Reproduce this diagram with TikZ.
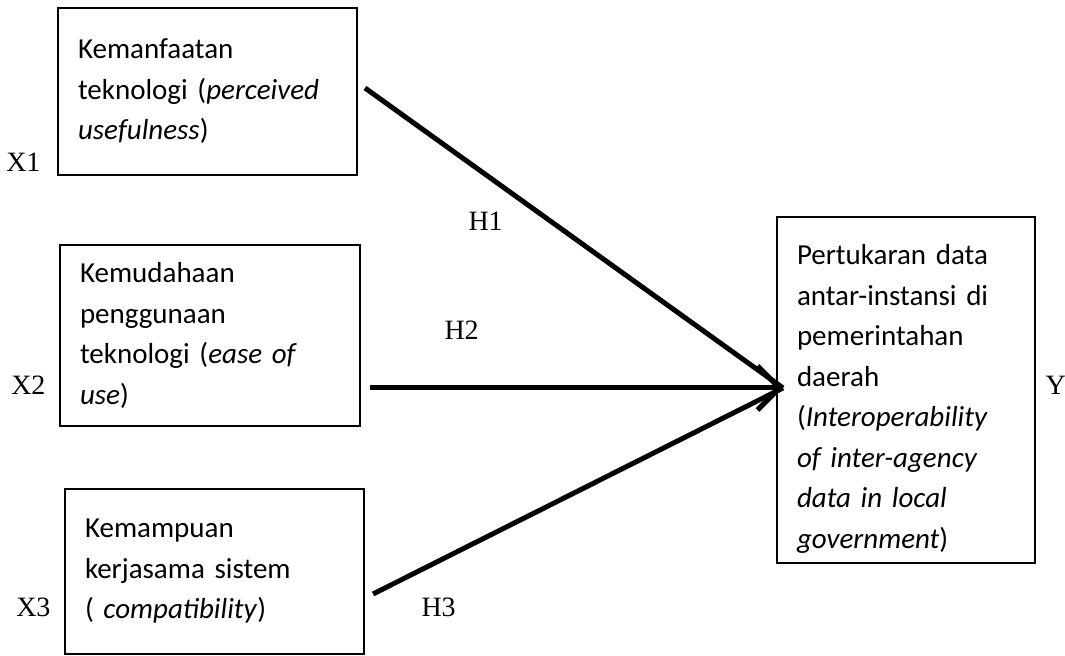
\documentclass[tikz,border=0pt]{standalone}
\usepackage{fontspec}
\setmainfont{Liberation Serif}
\newfontfamily\boxfont{Carlito}
\usetikzlibrary{arrows.meta}

\begin{document}
\begin{tikzpicture}[x=0.5pt,y=-0.5pt,line width=2.5pt,>={Straight Barb[length=11pt,width=22pt]}]

        \tikzstyle{var}=[draw=black,line width=0.8pt,align=left,inner xsep=10pt,inner ysep=2pt,font=\boxfont\fontsize{14.5}{20.25}\selectfont]
        \tikzstyle{tag}=[font=\fontsize{14}{16}\selectfont,inner sep=0pt]

        \useasboundingbox (0,0) rectangle (1065,656);

        \node[var,text width=129.5pt,minimum height=83.5pt] (x1) at (207.5,91.5)
            {Kemanfaatan\\teknologi (\textit{perceived}\\\textit{usefulness})};
        \node[var,text width=130pt,minimum height=90.5pt]   (x2) at (210,335.5)
            {Kemudahaan\\penggunaan\\teknologi (\textit{ease of}\\\textit{use})};
        \node[var,text width=129.5pt,minimum height=82.5pt] (x3) at (214.5,571.5)
            {Kemampuan\\kerjasama sistem\\( \textit{compatibility})};
        \node[var,text width=109pt,minimum height=173pt]    (y)  at (906,390)
            {\rule{0pt}{19pt}Pertukaran data\\antar-instansi di\\pemerintahan\\daerah\\(\textit{Interoperability}\\\textit{of inter-agency}\\\textit{data in local}\\\textit{government})};

        \node[tag,anchor=base east] (lx1) at (43,172)  {X1};
        \node[tag,anchor=base east] (lx2) at (48,395)  {X2};
        \node[tag,anchor=base east] (lx3) at (53,617)  {X3};
        \node[tag,anchor=base west] (ly)  at (1043,395) {Y};

        \coordinate (s1)  at (365,88);
        \coordinate (s2)  at (370,388);
        \coordinate (s3)  at (373,594);
        \coordinate (tip) at (783,388);

        \draw (s1) -- (tip);
        \draw[->] (s2) -- (tip);
        \draw (s3) -- (tip);

        \node[tag,anchor=base west] (h1) at (466,231) {H1};
        \node[tag,anchor=base west] (h2) at (442,340) {H2};
        \node[tag,anchor=base west] (h3) at (419,617) {H3};

    \end{tikzpicture}
\end{document}
